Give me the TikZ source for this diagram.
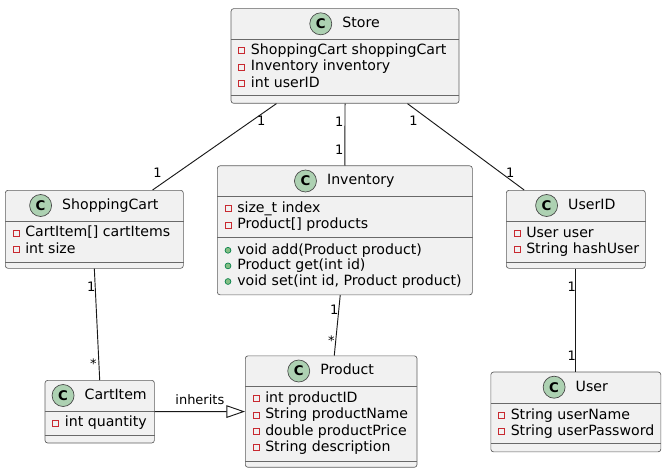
\documentclass[tikz,border=0pt]{standalone}
\usepackage{fontspec}
\setmainfont{DejaVu Sans}
\usetikzlibrary{positioning,calc,arrows.meta}
\definecolor{classbg}{HTML}{F1F1F1}
\definecolor{border}{HTML}{181818}
\definecolor{iconfill}{HTML}{ADD1B2}
\definecolor{privred}{HTML}{C82930}
\definecolor{pubgreen}{HTML}{84BE84}
\definecolor{pubdark}{HTML}{038048}

\tikzset{
  classbox/.style={draw=border!70, fill=classbg, line width=0.5pt, rounded corners=2pt, anchor=north west, inner sep=0},
  classname/.style={font=\fontsize{10.6}{12}\selectfont, inner sep=0, text height=8pt, text depth=2.2pt},
  classicon/.style={circle, draw=border!80, line width=0.5pt, fill=iconfill, minimum size=16.5pt, inner sep=0, font=\bfseries\fontsize{10}{12}\selectfont},
  member/.style={font=\fontsize{10.6}{12}\selectfont, anchor=west, inner sep=0, text height=8pt, text depth=2.2pt},
  sepline/.style={draw=border!65, line width=0.5pt},
  privmark/.style={draw=privred, line width=0.6pt},
  pubmark/.style={draw=pubdark, fill=pubgreen, line width=0.5pt},
  link/.style={draw=border, line width=0.7pt},
  mult/.style={font=\fontsize{9.75}{11}\selectfont, inner sep=0, text height=7pt, text depth=0pt},
}

% header of a class: icon, name and the line below
\newcommand\classhead[2]{%
  \node[classname] (#1-t) at ($(#1.north)+(16,15.5)$) {#2};
  \node[classicon, left=7.5pt of #1-t] (#1-c) {C};
  \draw[sepline] ($(#1.north west)+(0,31.3)$) -- ($(#1.north east)+(0,31.3)$);
}
\newcommand\classsep[2]{%
  \draw[sepline] ($(#1.north west)+(0,#2)$) -- ($(#1.north east)+(0,#2)$);
}
% private fields
\newcommand\classattrs[3]{%
  \foreach \m [count=\i] in {#3} {
    \node[member] (#1-a\i) at ($(#1.north west)+(20,{#2+(\i-1)*16.3})$) {\m};
    \draw[privmark] ($(#1-a\i.west)+(-9,0)$) +(-3,-3) rectangle +(3,3);
  }
}
% public methods
\newcommand\classops[3]{%
  \foreach \m [count=\i] in {#3} {
    \node[member] (#1-o\i) at ($(#1.north west)+(20,{#2+(\i-1)*15.6})$) {\m};
    \draw[pubmark] ($(#1-o\i.west)+(-9,0)$) circle[radius=2.2pt];
  }
}

\begin{document}
\begin{tikzpicture}[x=0.75pt, y=-0.75pt]
  \useasboundingbox (0,0) rectangle (667,474);

  % classes
  \node[classbox, minimum width=171pt, minimum height=71pt] (store) at (230.7,8.3) {};
  \classhead{store}{Store}
  \classattrs{store}{42.5}{ShoppingCart shoppingCart, Inventory inventory, int userID}
  \classsep{store}{86.7}

  \node[classbox, minimum width=133.5pt, minimum height=58.5pt] (cart) at (5,190) {};
  \classhead{cart}{ShoppingCart}
  \classattrs{cart}{43}{{CartItem[] cartItems}, int size}
  \classsep{cart}{72.3}

  \node[classbox, minimum width=191.25pt, minimum height=96.75pt] (inventory) at (217,165.5) {};
  \classhead{inventory}{Inventory}
  \classattrs{inventory}{43.2}{size\_t index, {Product[] products}}
  \classsep{inventory}{71.5}
  \classops{inventory}{84.8}{{void add(Product product)}, {Product get(int id)}, {void set(int id, Product product)}}

  \node[classbox, minimum width=104.25pt, minimum height=58.5pt] (userid) at (506,190) {};
  \classhead{userid}{UserID}
  \classattrs{userid}{43.5}{User user, String hashUser}
  \classsep{userid}{72.3}

  \node[classbox, minimum width=82pt, minimum height=47pt] (cartitem) at (44.7,380) {};
  \classhead{cartitem}{CartItem}
  \classattrs{cartitem}{43}{int quantity}
  \classsep{cartitem}{55}

  \node[classbox, minimum width=128.75pt, minimum height=83.6pt] (product) at (245,355.5) {};
  \classhead{product}{Product}
  \classattrs{product}{43.3}{int productID, String productName, double productPrice, String description}
  \classsep{product}{105.5}

  \node[classbox, minimum width=127.5pt, minimum height=59.85pt] (user) at (490.5,371.7) {};
  \classhead{user}{User}
  \classattrs{user}{43.5}{String userName, String userPassword}
  \classsep{user}{71.6}

  % associations
  \draw[link] ($(store.south west)!.2!(store.south east)$) -- ($(cart.north west)!.826!(cart.north east)$)
    node[mult, pos=.195, xshift=6.75pt] (m1) {1}
    node[mult, pos=.805, xshift=-14.5pt] (m2) {1};
  \draw[link] (store.south) -- (inventory.north)
    node[mult, pos=.3, xshift=-4.2pt] (m3) {1}
    node[mult, pos=.75, xshift=-4.2pt] (m4) {1};
  \draw[link] ($(store.south west)!.773!(store.south east)$) -- ($(userid.north west)!.13!(userid.north east)$)
    node[mult, pos=.195, xshift=-12.6pt] (m5) {1}
    node[mult, pos=.805, xshift=6.6pt] (m6) {1};
  \draw[link] (cart.south) -- (cartitem.north)
    node[mult, pos=.16, xshift=-2.9pt] (m7) {1}
    node[mult, pos=.83, xshift=-4pt, yshift=-2pt] (m8) {*};
  \draw[link] ($(inventory.south west)!.482!(inventory.south east)$) -- ($(product.north west)!.518!(product.north east)$)
    node[mult, pos=.25, xshift=-3.3pt] (m9) {1}
    node[mult, pos=.72, xshift=-3.5pt, yshift=-2pt] (m10) {*};
  \draw[link] (userid.south) -- (user.north)
    node[mult, pos=.18, xshift=-3pt] (m11) {1}
    node[mult, pos=.85, xshift=-3pt] (m12) {1};

  % generalisation
  \draw[link, -{Triangle[open, length=14pt, width=9.5pt]}] (cartitem.east) -- (product.west)
    node[mult, pos=.5, yshift=8.6pt] (inh) {inherits};
\end{tikzpicture}
\end{document}
